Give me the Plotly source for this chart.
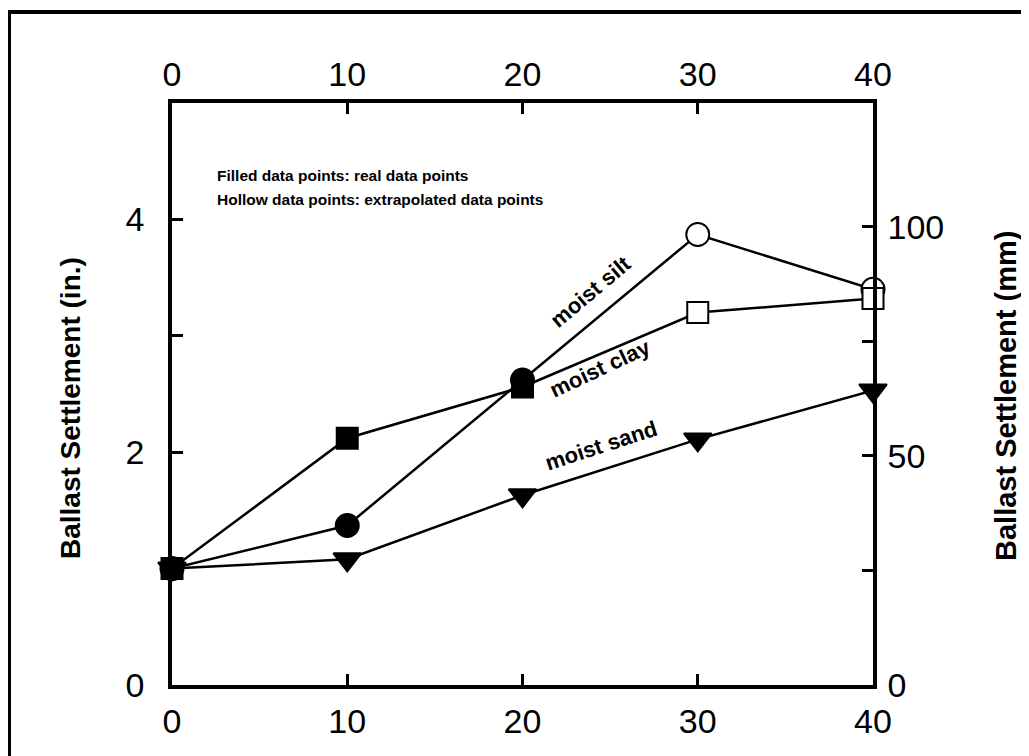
import plotly.graph_objects as go

# ---- data (inches) ----
x_vals = [0, 10, 20, 30, 40]
silt = [1.0, 1.37, 2.62, 3.87, 3.40]
clay = [1.0, 2.12, 2.56, 3.20, 3.32]
sand = [1.0, 1.08, 1.63, 2.11, 2.53]
silt_filled = [True, True, True, False, False]
clay_filled = [True, True, True, False, False]
sand_filled = [True, True, True, True, True]

x_ticks = [0, 10, 20, 30, 40]
y_in_ticks = [0, 1, 2, 3, 4]
y_in_text = ["0", "", "2", "", "4"]
y_mm_ticks = [0, 25, 50, 75, 100]
y_mm_text = ["0", "", "50", "", "100"]
MM_PER_IN = 25.4

FONT = "Liberation Sans, Arial, sans-serif"

W, H = 1029, 756
L, R, T, B = 164, 1029 - 865, 95, 756 - 677
PW, PH = W - L - R, H - T - B


def px(xp):
    return (xp - L) / PW


def py(yp):
    return (H - B - yp) / PH


fig = go.Figure()


def add_series(y, filled, symbol, size):
    fill = ["black" if f else "white" for f in filled]
    fig.add_trace(go.Scatter(
        x=x_vals, y=y, mode="lines+markers",
        line=dict(color="black", width=2.5),
        marker=dict(symbol=symbol, size=size, color=fill,
                    line=dict(color="black", width=2)),
        cliponaxis=False, showlegend=False, hoverinfo="x+y"))


add_series(sand, sand_filled, "triangle-down", 24)
add_series(silt, silt_filled, "circle", 23)
add_series(clay, clay_filled, "square", 21)

# invisible helper trace so the secondary (top/right) axes are drawn
fig.add_trace(go.Scatter(
    x=x_vals, y=[v * MM_PER_IN for v in sand], xaxis="x2", yaxis="y2",
    mode="lines", line=dict(width=0, color="rgba(0,0,0,0)"),
    hoverinfo="skip", showlegend=False))

axis_common = dict(showline=True, linecolor="black", linewidth=3.5,
                   ticks="inside", ticklen=11, tickwidth=3, tickcolor="black",
                   showgrid=False, zeroline=False,
                   tickfont=dict(family=FONT, size=34, color="black"))

fig.update_layout(
    width=W, height=H,
    margin=dict(l=L, r=R, t=T, b=B),
    paper_bgcolor="white", plot_bgcolor="white",
    xaxis=dict(range=[0, 40], tickvals=x_ticks, ticklabelstandoff=3,
               **axis_common),
    xaxis2=dict(range=[0, 40], tickvals=x_ticks, overlaying="x", side="top",
                anchor="y", ticklabelstandoff=0, **axis_common),
    yaxis=dict(range=[0, 5], tickvals=y_in_ticks, ticktext=y_in_text,
               ticklabelstandoff=17, **axis_common),
    yaxis2=dict(range=[0, 5 * MM_PER_IN], tickvals=y_mm_ticks,
                ticktext=y_mm_text, overlaying="y", side="right",
                anchor="x", ticklabelstandoff=4, **axis_common),
)

# axis titles
fig.add_annotation(text="<b>Ballast Settlement (in.)</b>", xref="paper",
                   yref="paper", x=px(62), y=py(400), xanchor="center",
                   yanchor="middle", textangle=-90, showarrow=False,
                   font=dict(family=FONT, size=28, color="black"))
fig.add_annotation(text="<b>Ballast Settlement (mm)</b>", xref="paper",
                   yref="paper", x=px(998), y=py(388), xanchor="center",
                   yanchor="middle", textangle=-90, showarrow=False,
                   font=dict(family=FONT, size=29, color="black"))

# note text
for txt, yy in [("Filled data points: real data points", 4.38),
                ("Hollow data points: extrapolated data points", 4.175)]:
    fig.add_annotation(text="<b>" + txt + "</b>", x=2.45, y=yy, xref="x",
                       yref="y", xanchor="left", yanchor="middle",
                       showarrow=False,
                       font=dict(family=FONT, size=15.5, color="black"))

# series labels
for txt, xx, yy, ang in [("moist silt", 23.9, 3.38, -40),
                         ("moist clay", 24.4, 2.72, -25),
                         ("moist sand", 24.5, 2.06, -18)]:
    fig.add_annotation(text="<b>" + txt + "</b>", x=xx, y=yy, xref="x",
                       yref="y", textangle=ang, showarrow=False,
                       font=dict(family=FONT, size=22, color="black"))

# outer frame
fig.add_shape(type="rect", xref="paper", yref="paper",
              x0=px(1), x1=px(1026), y0=py(800), y1=py(4),
              line=dict(color="black", width=4), fillcolor="rgba(0,0,0,0)",
              layer="below")

fig.write_html("out.html")
